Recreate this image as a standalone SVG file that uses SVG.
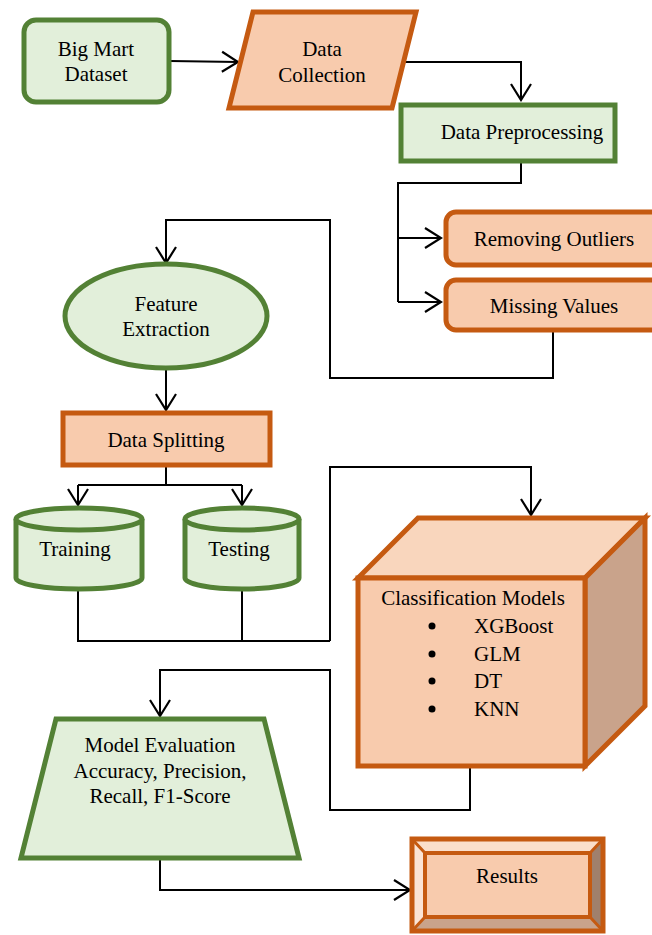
<svg xmlns="http://www.w3.org/2000/svg" width="652" height="935" viewBox="0 0 652 935">
<defs>
<style>
.g{fill:#E2EFDA;stroke:#538135;stroke-width:5}
.o{fill:#F8CBAD;stroke:#C55A11;stroke-width:5}
text{font-family:'Liberation Serif','Times New Roman',serif;font-size:21px;fill:#000}
.t{text-anchor:middle}
.c{fill:none;stroke:#000;stroke-width:2}
</style>
<marker id="ah" markerUnits="userSpaceOnUse" markerWidth="20" markerHeight="24" refX="18" refY="12" orient="auto" viewBox="0 0 20 24">
<path d="M2,2 L18,12 L2,22" fill="none" stroke="#000" stroke-width="2.2"/>
</marker>
</defs>
<rect width="652" height="935" fill="#fff"/>
<g id="connectors">
<path class="c" d="M170,61 L238,62" marker-end="url(#ah)"/>
<path class="c" d="M405,62 L521,62 L521,100" marker-end="url(#ah)"/>
<path class="c" d="M521,162 L521,183 L398,183 L398,302"/>
<path class="c" d="M398,238 L441,238" marker-end="url(#ah)"/>
<path class="c" d="M398,302 L441,302" marker-end="url(#ah)"/>
<path class="c" d="M553,330 L553,378 L330,378 L330,220 L166,220 L166,263" marker-end="url(#ah)"/>
<path class="c" d="M166,370 L166,410" marker-end="url(#ah)"/>
<path class="c" d="M166,465 L166,485"/>
<path class="c" d="M78,485 L242,485"/>
<path class="c" d="M78,485 L78,505" marker-end="url(#ah)"/>
<path class="c" d="M242,485 L242,505" marker-end="url(#ah)"/>
<path class="c" d="M78,590 L78,641 L330,641"/>
<path class="c" d="M242,590 L242,641"/>
<path class="c" d="M330,641 L330,467 L531,467 L531,515" marker-end="url(#ah)"/>
<path class="c" d="M470,766 L470,810 L330,810 L330,670 L160,670 L160,716" marker-end="url(#ah)"/>
<path class="c" d="M160,858 L160,890 L410,890" marker-end="url(#ah)"/>
</g>
<g id="big-mart-dataset">
<rect class="g" x="24" y="20" width="145" height="82" rx="12"/>
<text class="t" x="96" y="56">Big Mart</text>
<text class="t" x="96" y="81">Dataset</text>
</g>
<g id="data-collection">
<polygon class="o" points="253,12 416,12 392,108 229,108"/>
<text class="t" x="322" y="56">Data</text>
<text class="t" x="322" y="82">Collection</text>
</g>
<g id="data-preprocessing">
<rect class="g" x="401" y="105" width="214" height="56"/>
<text class="t" x="522" y="139">Data Preprocessing</text>
</g>
<g id="removing-outliers">
<rect class="o" x="446" y="212" width="215" height="53" rx="10"/>
<text class="t" x="554" y="246">Removing Outliers</text>
</g>
<g id="missing-values">
<rect class="o" x="446" y="280" width="215" height="50" rx="10"/>
<text class="t" x="554" y="313">Missing Values</text>
</g>
<g id="feature-extraction">
<ellipse class="g" cx="166" cy="316" rx="101" ry="52"/>
<text class="t" x="166" y="311">Feature</text>
<text class="t" x="166" y="336">Extraction</text>
</g>
<g id="data-splitting">
<rect class="o" x="63" y="413" width="207" height="52"/>
<text class="t" x="166" y="447">Data Splitting</text>
</g>
<g id="training">
<path class="g" d="M16,519 L16,578 A63,11 0 0 0 142,578 L142,519"/>
<ellipse class="g" cx="79" cy="519" rx="63" ry="11"/>
<text class="t" x="75" y="556">Training</text>
</g>
<g id="testing">
<path class="g" d="M185,519 L185,578 A57,11 0 0 0 299,578 L299,519"/>
<ellipse class="g" cx="242" cy="519" rx="57" ry="11"/>
<text class="t" x="239" y="556">Testing</text>
</g>
<g id="classification-models">
<polygon points="358,578 418,518 645,518 585,578" fill="#F9D6BD" stroke="#C55A11" stroke-width="5"/>
<polygon points="585,578 645,518 645,706 585,766" fill="#C9A38B" stroke="#C55A11" stroke-width="5"/>
<rect class="o" x="358" y="578" width="227" height="188"/>
<text class="t" x="473" y="605">Classification Models</text>
<circle cx="432" cy="626" r="3.5"/>
<circle cx="432" cy="654" r="3.5"/>
<circle cx="432" cy="681" r="3.5"/>
<circle cx="432" cy="709" r="3.5"/>
<text x="474" y="633">XGBoost</text>
<text x="474" y="661">GLM</text>
<text x="474" y="688">DT</text>
<text x="474" y="716">KNN</text>
</g>
<g id="model-evaluation">
<polygon class="g" points="56,719 264,719 299,858 21,858"/>
<text class="t" x="160" y="752">Model Evaluation</text>
<text class="t" x="160" y="778">Accuracy, Precision,</text>
<text class="t" x="160" y="803">Recall, F1-Score</text>
</g>
<g id="results">
<rect x="412" y="839" width="191" height="92" fill="#F8CBAD"/>
<polygon points="412,839 603,839 590,853 425,853" fill="#FBDFCB"/>
<polygon points="603,839 603,931 590,917 590,853" fill="#A0806C"/>
<polygon points="412,931 603,931 590,917 425,917" fill="#C9A38B"/>
<polygon points="412,839 425,853 425,917 412,931" fill="#FBE4D5"/>
<rect x="425" y="853" width="165" height="64" fill="#F8CBAD" stroke="#C55A11" stroke-width="4"/>
<path d="M412,839 L425,853 M603,839 L590,853 M603,931 L590,917 M412,931 L425,917" stroke="#C55A11" stroke-width="3"/>
<rect x="412" y="839" width="191" height="92" fill="none" stroke="#C55A11" stroke-width="5"/>
<text class="t" x="507" y="883">Results</text>
</g>
</svg>
